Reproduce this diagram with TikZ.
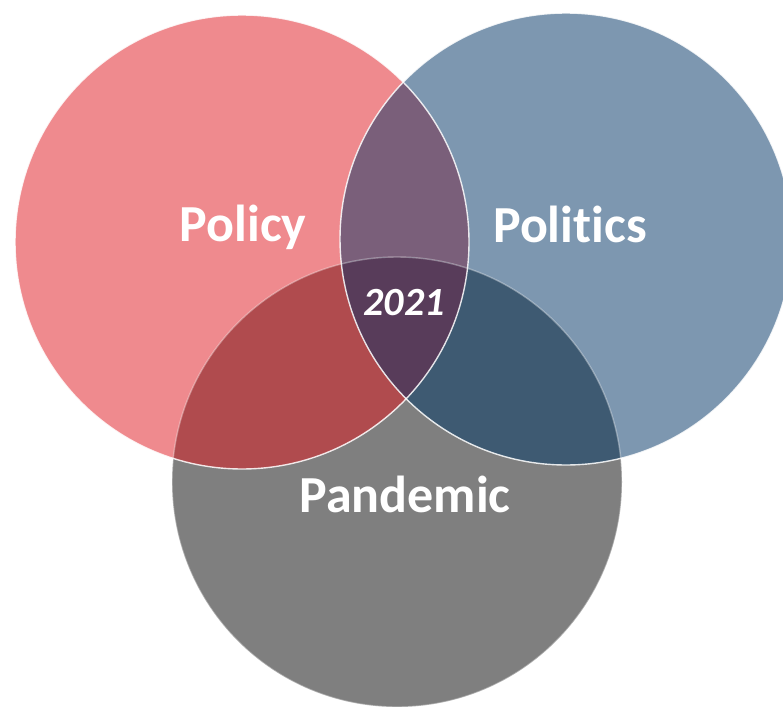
\documentclass[tikz,border=0pt]{standalone}
\usepackage{fontspec}
\setmainfont[Ligatures=NoCommon]{Carlito}
\definecolor{cRed}{HTML}{EF8A8E}
\definecolor{cBlue}{HTML}{7D97B0}
\definecolor{cGray}{HTML}{7F7F7F}
\definecolor{cRG}{HTML}{B04B4E}
\definecolor{cBG}{HTML}{3E5A72}
\definecolor{cRB}{HTML}{7A5F7A}
\definecolor{cRBG}{HTML}{583C5A}
\begin{document}
\begin{tikzpicture}[x=1pt,y=-1pt,
  lbl/.style={text=white,font=\bfseries\fontsize{52}{60}\selectfont,anchor=base,inner sep=0pt},
  yr/.style={text=white,font=\bfseries\itshape\fontsize{40}{48}\selectfont,anchor=base,inner sep=0pt},
  rim/.style={draw=white,line width=1.4pt}]
\useasboundingbox (0,0) rectangle (783,706);
\coordinate (cr) at (242,242);
\coordinate (cb) at (566,239);
\coordinate (cg) at (397,482);
% base circles
\fill[cGray] (cg) circle (225pt);
\fill[cRed] (cr) circle (227pt);
\fill[cBlue] (cb) circle (226pt);
% pairwise intersections
\begin{scope}
  \clip (cr) circle (227pt);
  \fill[cRG] (cg) circle (225pt);
  \fill[cRB] (cb) circle (226pt);
\end{scope}
\begin{scope}
  \clip (cb) circle (226pt);
  \fill[cBG] (cg) circle (225pt);
\end{scope}
\begin{scope}
  \clip (cr) circle (227pt);
  \clip (cb) circle (226pt);
  \fill[cRBG] (cg) circle (225pt);
\end{scope}
% rims
\draw[rim,draw opacity=0.35] (cg) circle (225pt);
\draw[rim,draw opacity=0.85] (cr) circle (227pt);
\draw[rim,draw opacity=0.85] (cb) circle (226pt);
% labels
\node[lbl] (policy) at (243,241) {Policy};
\node[lbl] (politics) at (570,242) {Polit\kern0pt ics};
\node[lbl] (pandemic) at (405,512) {Pandemic};
\node[yr] (year) at (404,315) {2021};
\end{tikzpicture}
\end{document}
